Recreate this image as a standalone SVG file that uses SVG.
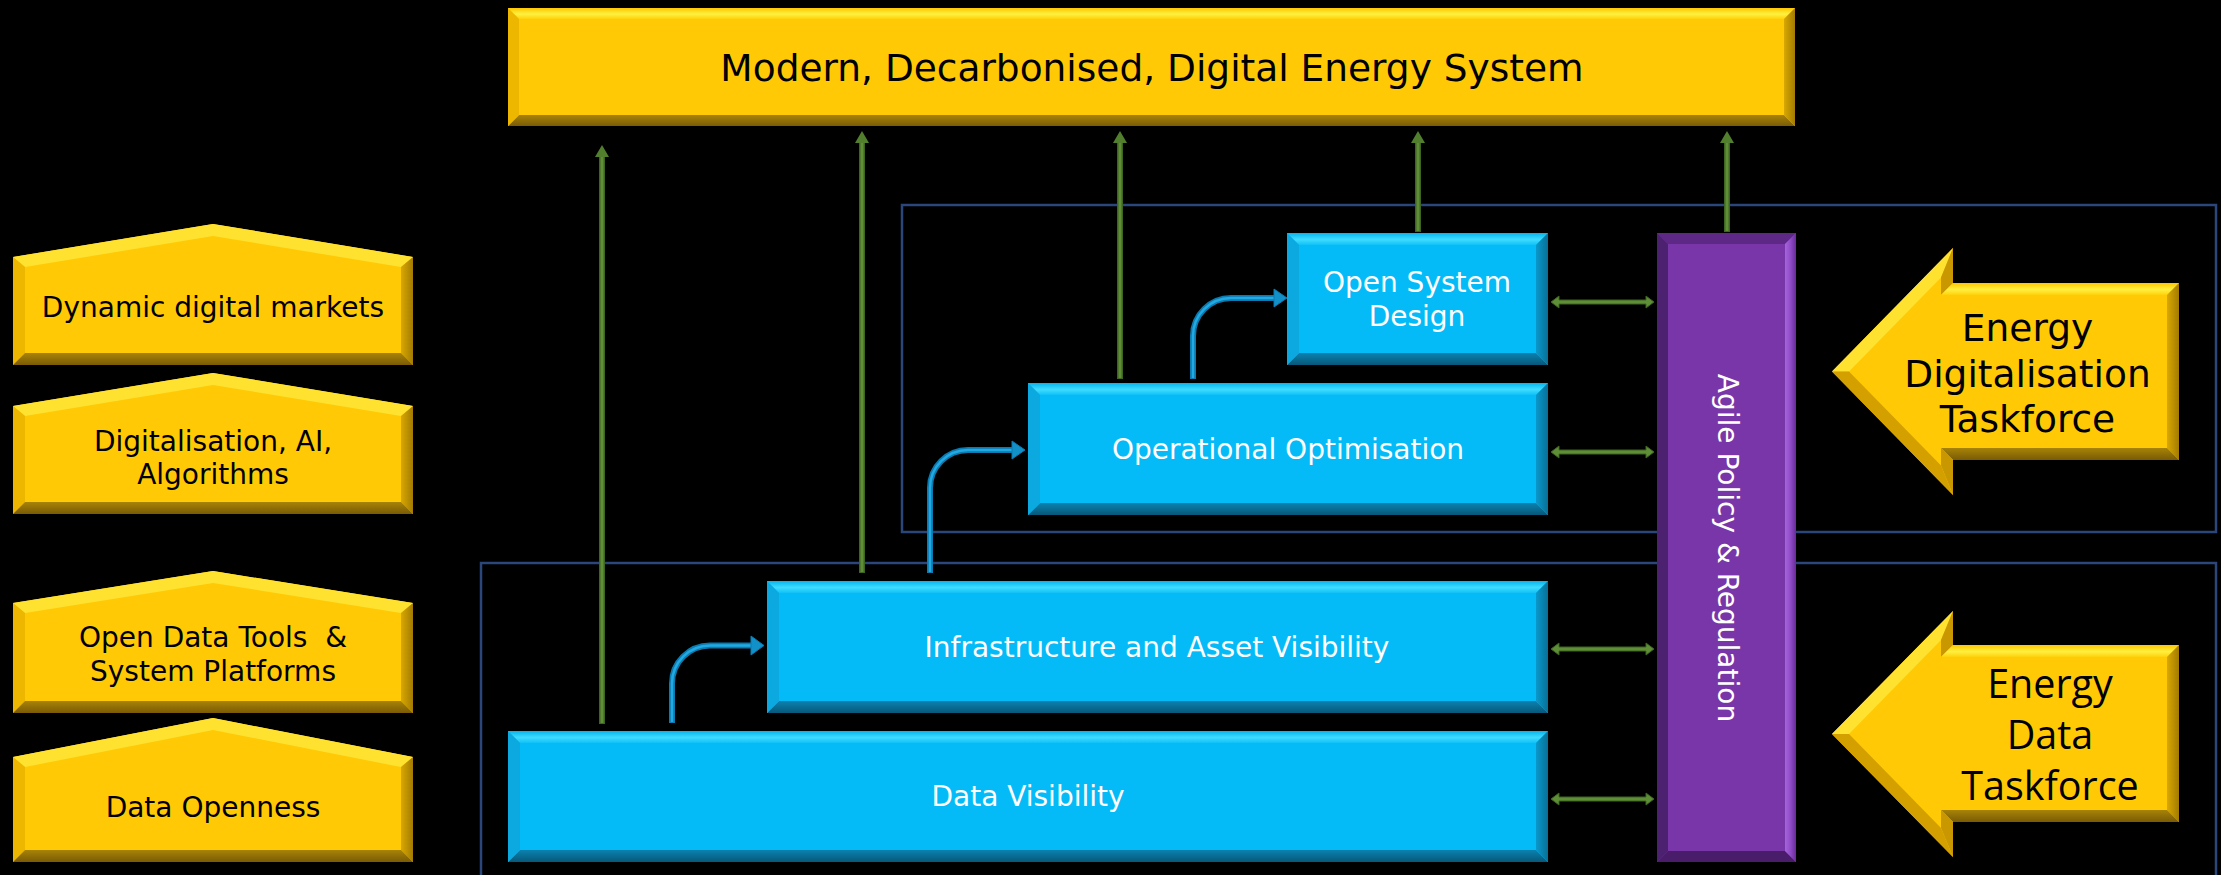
<svg xmlns="http://www.w3.org/2000/svg" xmlns:xlink="http://www.w3.org/1999/xlink" width="2221" height="875" viewBox="0 0 2221 875">
<defs>
<style>
.t{font-family:"DejaVu Sans","Liberation Sans",sans-serif;text-anchor:middle}
.k{fill:#000}.w{fill:#fff}
.s28{font-size:28px}.s37{font-size:37.5px}
.seg{font-family:"Open Sans","Liberation Sans",sans-serif;font-size:39.5px;text-anchor:middle;fill:#000}
.yM{fill:#FFCA05}.yL{fill:#FFE230}.yLe{fill:#EDB700}.yR{fill:url(#yRg)}.yB{fill:url(#yBg)}.yT{fill:url(#yTg)}.yD{fill:#D3A000}.yN{fill:#C99700}
.bM{fill:#05BBF7}.bT{fill:url(#bTg)}.bB{fill:url(#bBg)}.bL{fill:#0CA9E0}.bR{fill:url(#bRg)}
.pM{fill:#7936A8}.pT{fill:#5E2887}.pB{fill:#4A1D6B}.pL{fill:#4C216F}.pR{fill:url(#pRg)}
.frame{fill:none;stroke:#2B467A;stroke-width:2.5}
.gvo{stroke:#3E6422;stroke-width:6;fill:none}
.gvi{stroke:#5E8E36;stroke-width:3;fill:none}
.gh{fill:#517F2D}
.dbl{fill:#5E8F36;stroke:#3D6322;stroke-width:1}
.bo{stroke:#0B7AB0;stroke-width:6;fill:none}
.bi{stroke:#22A9E2;stroke-width:2.5;fill:none}
.bh{fill:#1290C8;stroke:#0B7AB0;stroke-width:1}
</style>
<linearGradient id="yTg" x1="0" y1="0" x2="0" y2="1"><stop offset="0" stop-color="#FFC600"/><stop offset="0.55" stop-color="#FFF140"/><stop offset="1" stop-color="#FFD10A"/></linearGradient>
<linearGradient id="yBg" x1="0" y1="0" x2="0" y2="1"><stop offset="0" stop-color="#A88308"/><stop offset="1" stop-color="#7A5B05"/></linearGradient>
<linearGradient id="yRg" x1="0" y1="0" x2="1" y2="0"><stop offset="0" stop-color="#D9A800"/><stop offset="1" stop-color="#A27B03"/></linearGradient>
<linearGradient id="bTg" x1="0" y1="0" x2="0" y2="1"><stop offset="0" stop-color="#08B4EC"/><stop offset="0.55" stop-color="#40DCFF"/><stop offset="1" stop-color="#0FC0F8"/></linearGradient>
<linearGradient id="bBg" x1="0" y1="0" x2="0" y2="1"><stop offset="0" stop-color="#0C82B0"/><stop offset="1" stop-color="#065878"/></linearGradient>
<linearGradient id="bRg" x1="0" y1="0" x2="1" y2="0"><stop offset="0" stop-color="#0A98CC"/><stop offset="1" stop-color="#077096"/></linearGradient>
<linearGradient id="pRg" x1="0" y1="0" x2="1" y2="0"><stop offset="0" stop-color="#A565DC"/><stop offset="0.5" stop-color="#8F4BC6"/><stop offset="1" stop-color="#6A2A98"/></linearGradient>
<path id="dblArrow" class="dbl" d="M1551,0 L1559,-6 L1559,-2 L1646,-2 L1646,-6 L1654,0 L1646,6 L1646,2 L1559,2 L1559,6 Z"/>
</defs>

<rect x="0" y="0" width="2221" height="875" fill="#000"/>

<g id="frames">
<rect class="frame" x="902" y="205" width="1314" height="327"/>
<path class="frame" d="M481,880 V563 H2216 V880"/>
</g>

<g id="connectors">
<g id="up-arrows">
<line class="gvo" x1="602" y1="724" x2="602" y2="153"/><line class="gvi" x1="602" y1="723" x2="602" y2="153"/><polygon class="gh" points="602,145 595,157 609,157"/>
<line class="gvo" x1="862" y1="573" x2="862" y2="139"/><line class="gvi" x1="862" y1="572" x2="862" y2="139"/><polygon class="gh" points="862,131 855,143 869,143"/>
<line class="gvo" x1="1120" y1="379" x2="1120" y2="139"/><line class="gvi" x1="1120" y1="378" x2="1120" y2="139"/><polygon class="gh" points="1120,131 1113,143 1127,143"/>
<line class="gvo" x1="1418" y1="232" x2="1418" y2="139"/><line class="gvi" x1="1418" y1="231" x2="1418" y2="139"/><polygon class="gh" points="1418,131 1411,143 1425,143"/>
<line class="gvo" x1="1727" y1="232" x2="1727" y2="139"/><line class="gvi" x1="1727" y1="231" x2="1727" y2="139"/><polygon class="gh" points="1727,131 1720,143 1734,143"/>
</g>
<g id="bent-arrows">
<path class="bo" d="M672,723 V683.5 A38,38 0 0 1 710,645.5 H752"/><path class="bi" d="M672,722 V683.5 A38,38 0 0 1 710,645.5 H752"/><polygon class="bh" points="751,636 764,645.5 751,655"/>
<path class="bo" d="M930,573 V488 A38,38 0 0 1 968,450 H1013"/><path class="bi" d="M930,572 V488 A38,38 0 0 1 968,450 H1013"/><polygon class="bh" points="1012,441 1025,450 1012,459"/>
<path class="bo" d="M1193,379 V336 A38,38 0 0 1 1231,298 H1275"/><path class="bi" d="M1193,378 V336 A38,38 0 0 1 1231,298 H1275"/><polygon class="bh" points="1274,289 1287,298 1274,307"/>
</g>
<g id="double-arrows">
<use xlink:href="#dblArrow" href="#dblArrow" y="302"/>
<use xlink:href="#dblArrow" href="#dblArrow" y="452"/>
<use xlink:href="#dblArrow" href="#dblArrow" y="649"/>
<use xlink:href="#dblArrow" href="#dblArrow" y="799"/>
</g>
</g>

<g id="banner">
<rect class="yM" x="508" y="8" width="1287" height="118"/>
<polygon class="yT" points="508,8 1795,8 1784,19 519,19"/>
<polygon class="yB" points="508,126 1795,126 1784,115 519,115"/>
<polygon class="yLe" points="508,8 519,19 519,115 508,126"/>
<polygon class="yR" points="1795,8 1795,126 1784,115 1784,19"/>
<text class="t k s37" x="1152" y="81">Modern, Decarbonised, Digital Energy System</text>
</g>

<g id="pillar-dynamic-markets">
<polygon class="yM" points="13,257 213,224 413,257 413,365 13,365"/>
<polygon class="yL" points="13,257 213,224 413,257 401,267 213,236 25,267"/>
<polygon class="yLe" points="13,257 25,267 25,353 13,365"/>
<polygon class="yR" points="413,257 413,365 401,353 401,267"/>
<polygon class="yB" points="13,365 413,365 401,353 25,353"/>
<text class="t k s28" x="213" y="317">Dynamic digital markets</text>
</g>

<g id="pillar-digitalisation">
<polygon class="yM" points="13,406 213,373 413,406 413,514 13,514"/>
<polygon class="yL" points="13,406 213,373 413,406 401,416 213,385 25,416"/>
<polygon class="yLe" points="13,406 25,416 25,502 13,514"/>
<polygon class="yR" points="413,406 413,514 401,502 401,416"/>
<polygon class="yB" points="13,514 413,514 401,502 25,502"/>
<text class="t k s28" x="213" y="451">Digitalisation, AI,</text>
<text class="t k s28" x="213" y="484">Algorithms</text>
</g>

<g id="pillar-open-data-tools">
<polygon class="yM" points="13,603 213,571 413,603 413,713 13,713"/>
<polygon class="yL" points="13,603 213,571 413,603 401,613 213,583 25,613"/>
<polygon class="yLe" points="13,603 25,613 25,701 13,713"/>
<polygon class="yR" points="413,603 413,713 401,701 401,613"/>
<polygon class="yB" points="13,713 413,713 401,701 25,701"/>
<text class="t k s28" x="213" y="647" xml:space="preserve">Open Data Tools  &amp;</text>
<text class="t k s28" x="213" y="681">System Platforms</text>
</g>

<g id="pillar-data-openness">
<polygon class="yM" points="13,757 213,718 413,757 413,862 13,862"/>
<polygon class="yL" points="13,757 213,718 413,757 401,767 213,730 25,767"/>
<polygon class="yLe" points="13,757 25,767 25,850 13,862"/>
<polygon class="yR" points="413,757 413,862 401,850 401,767"/>
<polygon class="yB" points="13,862 413,862 401,850 25,850"/>
<text class="t k s28" x="213" y="817">Data Openness</text>
</g>

<g id="box-open-system-design">
<rect class="bM" x="1287" y="233" width="261" height="132"/>
<polygon class="bT" points="1287,233 1548,233 1536,245 1299,245"/>
<polygon class="bB" points="1287,365 1548,365 1536,353 1299,353"/>
<polygon class="bL" points="1287,233 1299,245 1299,353 1287,365"/>
<polygon class="bR" points="1548,233 1548,365 1536,353 1536,245"/>
<text class="t w s28" x="1417" y="292">Open System</text>
<text class="t w s28" x="1417" y="326">Design</text>
</g>

<g id="box-operational-optimisation">
<rect class="bM" x="1028" y="383" width="520" height="132"/>
<polygon class="bT" points="1028,383 1548,383 1536,395 1040,395"/>
<polygon class="bB" points="1028,515 1548,515 1536,503 1040,503"/>
<polygon class="bL" points="1028,383 1040,395 1040,503 1028,515"/>
<polygon class="bR" points="1548,383 1548,515 1536,503 1536,395"/>
<text class="t w s28" x="1288" y="459">Operational Optimisation</text>
</g>

<g id="box-infrastructure">
<rect class="bM" x="767" y="581" width="781" height="132"/>
<polygon class="bT" points="767,581 1548,581 1536,593 779,593"/>
<polygon class="bB" points="767,713 1548,713 1536,701 779,701"/>
<polygon class="bL" points="767,581 779,593 779,701 767,713"/>
<polygon class="bR" points="1548,581 1548,713 1536,701 1536,593"/>
<text class="t w s28" x="1157" y="657">Infrastructure and Asset Visibility</text>
</g>

<g id="box-data-visibility">
<rect class="bM" x="508" y="731" width="1040" height="131"/>
<polygon class="bT" points="508,731 1548,731 1536,743 520,743"/>
<polygon class="bB" points="508,862 1548,862 1536,850 520,850"/>
<polygon class="bL" points="508,731 520,743 520,850 508,862"/>
<polygon class="bR" points="1548,731 1548,862 1536,850 1536,743"/>
<text class="t w s28" x="1028" y="806">Data Visibility</text>
</g>

<g id="bar-agile-policy">
<rect class="pM" x="1657" y="233" width="139" height="629"/>
<polygon class="pT" points="1657,233 1796,233 1785,244 1668,244"/>
<polygon class="pB" points="1657,862 1796,862 1785,851 1668,851"/>
<polygon class="pL" points="1657,233 1668,244 1668,851 1657,862"/>
<polygon class="pR" points="1796,233 1796,862 1785,851 1785,244"/>
<text class="t w s28" transform="translate(1718,548) rotate(90)" x="0" y="0">Agile Policy &amp; Regulation</text>
</g>

<g id="arrow-energy-digitalisation-taskforce">
<polygon class="yM" points="1832,371.5 1953,248 1953,283 2179,283 2179,460 1953,460 1953,495"/>
<polygon class="yL" points="1832,371.5 1953,248 1941,277.5 1849,371.5"/>
<polygon class="yN" points="1953,248 1953,283 1941,295 1941,277.5"/>
<polygon class="yT" points="1953,283 2179,283 2167,295 1941,295"/>
<polygon class="yR" points="2179,283 2179,460 2167,448 2167,295"/>
<polygon class="yB" points="2179,460 1953,460 1941,448 2167,448"/>
<polygon class="yN" points="1953,460 1953,495 1941,465.5 1941,448"/>
<polygon class="yD" points="1953,495 1832,371.5 1849,371.5 1941,465.5"/>
<text class="t k s37" x="2027.5" y="341">Energy</text>
<text class="t k s37" x="2027.5" y="386.5">Digitalisation</text>
<text class="t k s37" x="2027.5" y="432">Taskforce</text>
</g>

<g id="arrow-energy-data-taskforce">
<polygon class="yM" points="1832,734 1953,611 1953,645 2179,645 2179,822 1953,822 1953,857"/>
<polygon class="yL" points="1832,734 1953,611 1941,640 1849,734"/>
<polygon class="yN" points="1953,611 1953,645 1941,657 1941,640"/>
<polygon class="yT" points="1953,645 2179,645 2167,657 1941,657"/>
<polygon class="yR" points="2179,645 2179,822 2167,810 2167,657"/>
<polygon class="yB" points="2179,822 1953,822 1941,810 2167,810"/>
<polygon class="yN" points="1953,822 1953,857 1941,828 1941,810"/>
<polygon class="yD" points="1953,857 1832,734 1849,734 1941,828"/>
<text class="seg" x="2050" y="698">Energy</text>
<text class="seg" x="2050" y="749">Data</text>
<text class="seg" x="2050" y="800">Taskforce</text>
</g>
</svg>
